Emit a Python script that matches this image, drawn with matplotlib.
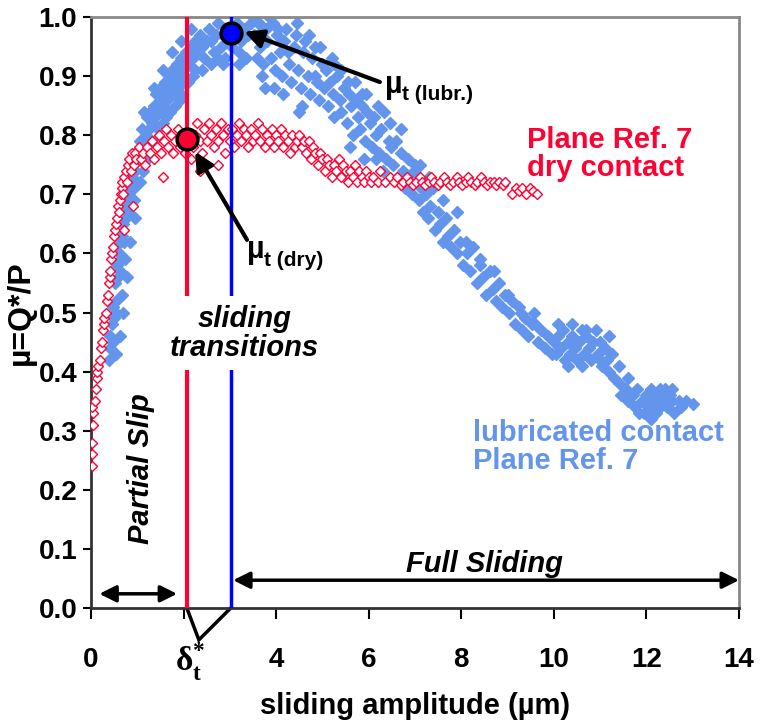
import matplotlib.pyplot as plt

# lubricated contact, Plane Ref. 7 (filled blue diamonds)
blue_x = [0.38, 0.42, 0.40, 0.47, 0.45, 0.50, 0.48, 0.53, 0.55, 0.52, 0.58, 0.56, 0.62, 0.60, 0.65,
          0.63, 0.68, 0.72, 0.70, 0.75, 0.73, 0.80, 0.78, 0.85, 0.83, 0.88, 0.92, 0.90, 0.96, 0.98,
          0.55, 0.62, 0.70, 0.66, 0.78, 0.74, 0.85, 0.95, 0.92,
          1.02, 1.05, 1.08, 1.10, 1.15, 1.18, 1.20, 1.25, 1.28, 1.32, 1.35, 1.38, 1.40, 1.45, 1.48,
          1.50, 1.55, 1.58, 1.60, 1.65, 1.68, 1.70, 1.75, 1.78, 1.80, 1.85, 1.88, 1.90, 1.95, 1.98,
          2.00, 2.05, 1.62, 1.92, 1.30,
          1.05, 1.12, 1.22, 1.35, 1.45, 1.55, 1.70, 1.82, 1.95, 1.15, 1.35, 1.55, 1.75, 1.95, 2.15,
          2.10, 2.15, 2.20, 2.25, 2.30, 2.35, 2.40, 2.45, 2.50, 2.55, 2.60, 2.65, 2.70, 2.75, 2.80,
          2.85, 2.90, 2.95, 3.00, 3.05, 3.10, 3.15, 3.20, 3.25, 3.30, 3.35, 3.40, 3.45, 3.50, 2.85,
          3.20, 2.25, 2.10, 2.20, 2.40, 2.60, 2.75,
          3.52, 3.58, 3.63, 3.66, 3.72, 3.78, 3.81, 3.88, 3.93, 3.97, 4.02, 4.08, 4.12, 4.18, 4.22,
          4.27, 4.33, 4.38, 4.42, 4.47, 4.53, 4.57, 4.62, 4.68, 4.73, 4.78, 4.83, 4.88, 4.93, 4.98,
          3.70, 3.95, 4.25, 4.55, 4.85,
          3.60, 3.85, 4.05, 4.45, 4.70, 4.95, 5.20, 3.75, 4.15, 4.50,
          5.03, 5.08, 5.12, 5.17, 5.22, 5.26, 5.31, 5.37, 5.41, 5.46, 5.52, 5.57, 5.61, 5.66, 5.72,
          5.77, 5.82, 5.86, 5.91, 5.97, 6.02, 6.07, 6.12, 6.16, 6.22, 6.27, 6.32, 6.38, 6.43, 6.48,
          5.25, 5.55, 5.85, 6.15,
          5.40, 5.70, 5.95, 6.20, 6.45, 5.60, 5.90, 6.30,
          6.53, 6.58, 6.63, 6.69, 6.74, 6.78, 6.84, 6.88, 6.93, 6.98, 7.04, 7.08, 7.13, 7.18, 7.24,
          7.28, 7.33, 7.38, 7.44, 7.49, 7.55, 7.61, 7.66, 7.72, 7.78, 7.84, 7.91, 7.97, 6.70, 7.00,
          7.10, 7.30, 7.60, 7.90,
          8.04, 8.12, 8.18, 8.26, 8.33, 8.41, 8.47, 8.53, 8.61, 8.68, 8.74, 8.82, 8.88, 8.95, 9.03,
          9.09, 9.16, 9.24, 9.31, 9.38, 9.44, 9.52, 9.58, 9.66, 9.73, 9.81, 9.88, 9.95,
          8.10, 8.40, 8.70, 9.00, 9.30, 9.60,
          10.00, 10.05, 10.10, 10.15, 10.20, 10.25, 10.30, 10.35, 10.40, 10.45, 10.50, 10.55, 10.60,
          10.65, 10.70, 10.75, 10.80, 10.85, 10.90, 10.95, 11.00, 11.05, 11.10, 11.15, 11.20, 11.25,
          11.30, 10.10, 10.40, 10.70, 10.30, 10.60, 11.00, 11.20,
          11.40, 11.45, 11.55, 11.60, 11.70, 11.75, 11.80, 11.90, 11.95, 12.00, 12.05, 12.10, 12.15,
          12.20, 12.25, 12.30, 12.35, 12.40, 12.45, 12.50, 12.55, 12.60, 12.70, 12.75, 12.85, 13.00,
          11.40, 11.60, 11.85, 12.10, 12.30, 12.55]
blue_y = [0.42, 0.44, 0.46, 0.45, 0.48, 0.49, 0.51, 0.52, 0.50, 0.55, 0.56, 0.58, 0.57, 0.60, 0.59,
          0.62, 0.63, 0.62, 0.65, 0.66, 0.68, 0.67, 0.70, 0.69, 0.72, 0.73, 0.71, 0.75, 0.74, 0.77,
          0.43, 0.46, 0.50, 0.53, 0.56, 0.59, 0.62, 0.66, 0.69,
          0.76, 0.79, 0.77, 0.81, 0.78, 0.80, 0.83, 0.81, 0.84, 0.82, 0.85, 0.83, 0.87, 0.84, 0.86,
          0.88, 0.85, 0.87, 0.89, 0.86, 0.90, 0.88, 0.91, 0.87, 0.89, 0.92, 0.88, 0.90, 0.93, 0.91,
          0.89, 0.94, 0.83, 0.86, 0.79,
          0.72, 0.74, 0.76, 0.79, 0.81, 0.82, 0.84, 0.85, 0.87, 0.84, 0.88, 0.91, 0.94, 0.96, 0.98,
          0.92, 0.95, 0.93, 0.96, 0.94, 0.97, 0.95, 0.93, 0.96, 0.98, 0.96, 0.94, 0.97, 0.99, 0.95,
          0.97, 0.93, 0.96, 0.98, 0.95, 0.97, 0.99, 0.94, 0.96, 0.98, 0.93, 0.97, 0.99, 1.00, 0.92,
          0.92, 0.91, 0.89, 0.90, 0.91, 0.92, 0.93,
          0.97, 0.93, 0.99, 0.95, 0.92, 0.98, 0.96, 0.93, 0.99, 0.91, 0.97, 0.94, 0.90, 0.96, 0.98,
          0.92, 0.89, 0.95, 0.97, 0.91, 0.88, 0.94, 0.96, 0.90, 0.87, 0.93, 0.95, 0.89, 0.86, 0.92,
          0.90, 0.88, 0.94, 0.85, 0.90,
          0.99, 1.00, 0.98, 0.99, 0.97, 0.95, 0.93, 0.88, 0.87, 0.84,
          0.88, 0.91, 0.85, 0.89, 0.87, 0.83, 0.90, 0.86, 0.84, 0.88, 0.82, 0.87, 0.85, 0.80, 0.86,
          0.83, 0.81, 0.85, 0.79, 0.84, 0.82, 0.78, 0.83, 0.80, 0.77, 0.81, 0.84, 0.76, 0.79, 0.78,
          0.92, 0.89, 0.87, 0.76,
          0.91, 0.89, 0.87, 0.85, 0.82, 0.78, 0.76, 0.74,
          0.75, 0.79, 0.73, 0.77, 0.74, 0.71, 0.76, 0.73, 0.70, 0.74, 0.72, 0.69, 0.71, 0.67, 0.70,
          0.66, 0.68, 0.71, 0.64, 0.67, 0.65, 0.62, 0.66, 0.63, 0.61, 0.64, 0.60, 0.62, 0.81, 0.75,
          0.75, 0.73, 0.69, 0.67,
          0.58, 0.60, 0.57, 0.61, 0.55, 0.58, 0.56, 0.53, 0.57, 0.54, 0.52, 0.55, 0.51, 0.53, 0.50,
          0.52, 0.48, 0.51, 0.47, 0.49, 0.46, 0.48, 0.50, 0.45, 0.47, 0.44, 0.46, 0.43,
          0.62, 0.59, 0.57, 0.53, 0.50, 0.48,
          0.45, 0.43, 0.46, 0.44, 0.47, 0.42, 0.45, 0.43, 0.46, 0.44, 0.42, 0.45, 0.47,
          0.43, 0.46, 0.44, 0.42, 0.45, 0.47, 0.43, 0.45, 0.41, 0.44, 0.42, 0.40, 0.43,
          0.39, 0.48, 0.48, 0.47, 0.41, 0.41, 0.42, 0.46,
          0.38, 0.36, 0.37, 0.35, 0.36, 0.34, 0.37, 0.35, 0.33, 0.36, 0.34, 0.37, 0.35,
          0.33, 0.36, 0.34, 0.35, 0.37, 0.34, 0.36, 0.35, 0.33, 0.35, 0.34, 0.35, 0.345,
          0.41, 0.39, 0.33, 0.32, 0.37, 0.37]

# dry contact, Plane Ref. 7 (open red diamonds)
red_x = [0.02, 0.03, 0.02, 0.04, 0.05, 0.03, 0.08, 0.10, 0.12, 0.14, 0.16, 0.19, 0.21, 0.23, 0.25,
         0.27, 0.29, 0.32, 0.34, 0.36, 0.38, 0.40, 0.42, 0.44, 0.46, 0.48, 0.50, 0.52, 0.54, 0.56,
         0.58, 0.60, 0.62, 0.64, 0.66, 0.68, 0.70, 0.72, 0.75, 0.78, 0.80, 0.83, 0.86, 0.88, 0.92,
         0.95, 0.98, 0.90, 0.72,
         1.03, 1.08, 1.12, 1.17, 1.22, 1.27, 1.32, 1.37, 1.42, 1.47, 1.52, 1.57, 1.62, 1.67, 1.72,
         1.77, 1.82, 1.87, 1.92, 1.97, 2.02, 2.10, 2.15, 2.20, 2.25, 2.30, 2.35, 2.40, 2.45, 2.50,
         2.55, 2.60, 2.65, 2.70, 2.75, 2.80, 2.85, 2.90, 2.95, 3.00, 3.05, 3.10, 3.15, 3.20, 3.25,
         3.30, 3.35, 3.40, 3.45, 3.50, 3.55, 3.60, 3.65, 3.70, 3.75, 3.80, 3.85, 3.90, 3.95, 4.00,
         4.05, 4.10, 4.15, 4.20, 4.25, 4.30, 4.35, 4.40, 4.45, 2.35, 2.75, 1.55,
         4.50, 4.55, 4.60, 4.65, 4.70, 4.75, 4.80, 4.85, 4.90, 4.95, 5.00, 5.05, 5.10, 5.15, 5.20,
         5.25, 5.30, 5.35, 5.40, 5.45, 5.50, 5.55, 5.60, 5.65, 5.70, 5.75, 5.80, 5.85, 5.90, 5.95,
         6.00, 6.05, 6.10, 6.20, 6.25, 6.35, 6.45,
         6.55, 6.62, 6.70, 6.75, 6.82, 6.90, 6.95, 7.02, 7.10, 7.15, 7.22, 7.30, 7.35, 7.42, 7.50,
         7.55, 7.62, 7.70, 7.75, 7.82, 7.90, 7.95, 8.02, 8.10, 8.15, 8.22, 8.30, 8.35, 8.42, 8.50,
         8.55, 8.62, 8.70, 8.75, 8.82, 8.90, 8.95,
         9.10, 9.18, 9.25, 9.32, 9.40, 9.48, 9.55, 9.63]
red_y = [0.24, 0.26, 0.28, 0.31, 0.33, 0.34, 0.35, 0.37, 0.39, 0.40, 0.41, 0.42, 0.44, 0.45, 0.47,
         0.48, 0.49, 0.50, 0.52, 0.53, 0.55, 0.56, 0.57, 0.59, 0.60, 0.61, 0.63, 0.64, 0.65, 0.66,
         0.68, 0.67, 0.69, 0.70, 0.71, 0.72, 0.70, 0.73, 0.74, 0.72, 0.75, 0.76, 0.74, 0.77, 0.75,
         0.77, 0.76, 0.68, 0.64,
         0.78, 0.76, 0.77, 0.75, 0.78, 0.77, 0.79, 0.76, 0.78, 0.80, 0.77, 0.79, 0.81, 0.78, 0.80,
         0.77, 0.79, 0.81, 0.78, 0.80, 0.77, 0.79, 0.76, 0.78, 0.80, 0.82, 0.79, 0.77, 0.81, 0.79,
         0.82, 0.80, 0.78, 0.81, 0.79, 0.82, 0.80, 0.77, 0.81, 0.79, 0.81, 0.78, 0.80, 0.82, 0.79,
         0.81, 0.80, 0.78, 0.81, 0.79, 0.80, 0.82, 0.79, 0.81, 0.78, 0.80, 0.79, 0.81, 0.78, 0.80,
         0.79, 0.81, 0.78, 0.80, 0.79, 0.77, 0.80, 0.78, 0.79, 0.74, 0.75, 0.73,
         0.80, 0.78, 0.79, 0.77, 0.79, 0.76, 0.78, 0.77, 0.75, 0.77, 0.76, 0.74, 0.76, 0.75, 0.73,
         0.75, 0.74, 0.76, 0.73, 0.75, 0.74, 0.72, 0.74, 0.73, 0.75, 0.72, 0.74, 0.73, 0.72, 0.74,
         0.73, 0.72, 0.73, 0.72, 0.74, 0.72, 0.73,
         0.72, 0.73, 0.715, 0.72, 0.73, 0.72, 0.715, 0.72, 0.73, 0.72, 0.715, 0.72, 0.73, 0.72, 0.715,
         0.72, 0.73, 0.72, 0.715, 0.72, 0.73, 0.72, 0.715, 0.72, 0.73, 0.72, 0.715, 0.72, 0.73, 0.72,
         0.715, 0.72, 0.72, 0.715, 0.72, 0.715, 0.72,
         0.70, 0.71, 0.705, 0.71, 0.70, 0.71, 0.705, 0.70]

mu_dry = (2.07, 0.794)
mu_lubr = (3.02, 0.973)
x_ticks = [0, 2, 4, 6, 8, 10, 12, 14]
x_tick_labels = ['0', '', '4', '6', '8', '10', '12', '14']
y_ticks = [0.0, 0.1, 0.2, 0.3, 0.4, 0.5, 0.6, 0.7, 0.8, 0.9, 1.0]

RED = '#FF0033'
BLUE = '#6495ED'

plt.rcParams['font.family'] = ['Liberation Sans', 'DejaVu Sans']
plt.rcParams['font.weight'] = 'bold'
plt.rcParams['axes.labelweight'] = 'bold'
plt.rcParams['mathtext.fontset'] = 'custom'
plt.rcParams['mathtext.rm'] = 'Liberation Serif'

fig = plt.figure(figsize=(7.61, 7.27), dpi=100)
ax = fig.add_axes([0.1196, 0.1637, 0.8515, 0.8129])

ax.plot(blue_x, blue_y, 'D', ms=6.2, color=BLUE, mec=BLUE, ls='none', zorder=2)
ax.plot(red_x, red_y, 'D', ms=4.8, mfc='white', mec=RED, mew=1.0, ls='none', zorder=3)

ax.axvline(mu_dry[0], color=RED, lw=3, zorder=4)
ax.axvline(mu_lubr[0], color='#0000FF', lw=2.5, zorder=4)

ax.plot(*mu_dry, 'o', ms=15, mfc=RED, mec='black', mew=2.5, zorder=6)
ax.plot(*mu_lubr, 'o', ms=15, mfc='#0000FF', mec='black', mew=2.5, zorder=6)

arrow = dict(arrowstyle='-|>', lw=3, color='black', mutation_scale=28, shrinkA=0, shrinkB=0)
ax.annotate('', xy=(3.31, 0.975), xytext=(6.24, 0.89), arrowprops=arrow, zorder=7)
ax.annotate('', xy=(2.25, 0.772), xytext=(3.37, 0.623), arrowprops=arrow, zorder=7)

ax.text(6.36, 0.872, 'µ', fontsize=22, va='baseline', ha='left')
ax.text(6.72, 0.859, 't (lubr.)', fontsize=15, va='baseline', ha='left')
ax.text(3.37, 0.592, 'µ', fontsize=22, va='baseline', ha='left')
ax.text(3.73, 0.579, 't (dry)', fontsize=15, va='baseline', ha='left')

ax.text(9.42, 0.815, 'Plane Ref. 7\ndry contact', color=RED, fontsize=21,
        ha='left', va='top', linespacing=1.0)
ax.text(8.25, 0.32, 'lubricated contact\nPlane Ref. 7', color=BLUE, fontsize=21,
        ha='left', va='top', linespacing=1.0)

ax.text(3.31, 0.465, 'sliding\ntransitions', fontsize=21, style='italic', ha='center',
        va='center', linespacing=1.05, zorder=5,
        bbox=dict(facecolor='white', edgecolor='none', pad=6))
ax.text(1.08, 0.235, 'Partial Slip', fontsize=21, style='italic', rotation=90,
        ha='center', va='center')
ax.text(8.5, 0.075, 'Full Sliding', fontsize=21, style='italic', ha='center', va='center')

dbl = dict(arrowstyle='<|-|>', lw=2.5, color='black', mutation_scale=25, shrinkA=0, shrinkB=0)
ax.annotate('', xy=(0.18, 0.024), xytext=(1.86, 0.024), arrowprops=dbl)
ax.annotate('', xy=(3.07, 0.047), xytext=(14.0, 0.047), arrowprops=dbl, annotation_clip=False)

ax.plot([mu_dry[0], 2.33, mu_lubr[0]], [0.0, -0.054, 0.0], color='black', lw=2.5,
        clip_on=False, solid_joinstyle='miter')
ax.text(2.15, -0.092, r'$\mathrm{\delta}^{*}_{\mathrm{t}}$', fontsize=24, ha='center', va='center')

ax.set_xlim(0, 14)
ax.set_ylim(0, 1.0)
ax.set_xticks(x_ticks)
ax.set_yticks(y_ticks)
ax.set_xticklabels(x_tick_labels)
ax.set_yticklabels(['%.1f' % t for t in y_ticks])
ax.tick_params(axis='x', direction='out', length=8, width=1.5, pad=20, labelsize=20)
ax.tick_params(axis='y', direction='out', length=6, width=1.5, pad=4, labelsize=20)
ax.set_xlabel('sliding amplitude (µm)', fontsize=21, labelpad=14)
ax.set_ylabel('µ=Q*/P', fontsize=23, labelpad=2)

for side in ['left', 'bottom']:
    ax.spines[side].set_color('#333333')
    ax.spines[side].set_linewidth(2)
for side in ['top', 'right']:
    ax.spines[side].set_color('#888888')
    ax.spines[side].set_linewidth(2)

fig.savefig('out.png', dpi=100)
